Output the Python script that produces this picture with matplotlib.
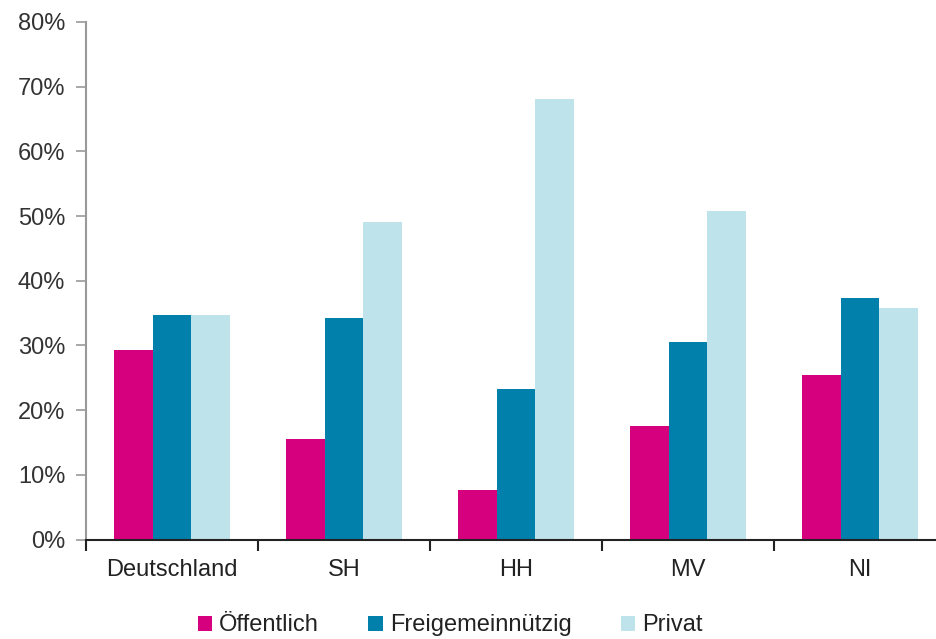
import numpy as np
import matplotlib.pyplot as plt
from matplotlib.ticker import PercentFormatter, FixedLocator

plt.rcParams['font.family'] = ['Liberation Sans Narrow', 'Liberation Sans', 'DejaVu Sans']

# Data (shares)
regions = ['Deutschland', 'SH', 'HH', 'MV', 'NI']
oeffentlich = [0.293, 0.155, 0.076, 0.176, 0.255]
freigemein = [0.347, 0.343, 0.233, 0.305, 0.374]
privat = [0.347, 0.491, 0.681, 0.508, 0.358]
series_names = ['Öffentlich', 'Freigemeinnützig', 'Privat']
colors = ['#D6007E', '#0080AA', '#BEE3EA']

fig = plt.figure(figsize=(9.37, 6.39), dpi=100)
ax = fig.add_axes([0.0918, 0.1557, 0.9082, 0.81])

x = np.arange(len(regions))
w = 0.225
for i, (vals, name, c) in enumerate(zip([oeffentlich, freigemein, privat], series_names, colors)):
    ax.bar(x + (i - 1) * w, vals, width=w, color=c, label=name)

ax.set_ylim(0, 0.8)
ax.set_xlim(-0.5, 4.448)
ax.set_yticks(np.arange(0, 0.81, 0.1))
ax.yaxis.set_major_formatter(PercentFormatter(1.0, decimals=0))

ax.set_xticks(x)
ax.set_xticklabels(regions)
ax.xaxis.set_minor_locator(FixedLocator(np.arange(-0.5, 5, 1.0)))
ax.tick_params(axis='x', which='major', length=0, pad=14, labelsize=17, labelcolor='#222222')
ax.tick_params(axis='x', which='minor', length=8, width=1.5, direction='out', color='#222222')
ax.tick_params(axis='y', length=7, width=1.2, color='#999999', labelsize=17, labelcolor='#333333', pad=8)

for s in ['top', 'right']:
    ax.spines[s].set_visible(False)
ax.spines['left'].set_color('#999999')
ax.spines['left'].set_linewidth(1.5)
ax.spines['bottom'].set_color('#222222')
ax.spines['bottom'].set_linewidth(1.5)

ax.legend(loc='center', bbox_to_anchor=(0.428, -0.166), ncol=3, frameon=False,
          fontsize=17, handlelength=0.6, handleheight=0.6, handletextpad=0.3,
          columnspacing=2.1, labelcolor='#222222', borderpad=0)

fig.savefig('out.png', dpi=100)
